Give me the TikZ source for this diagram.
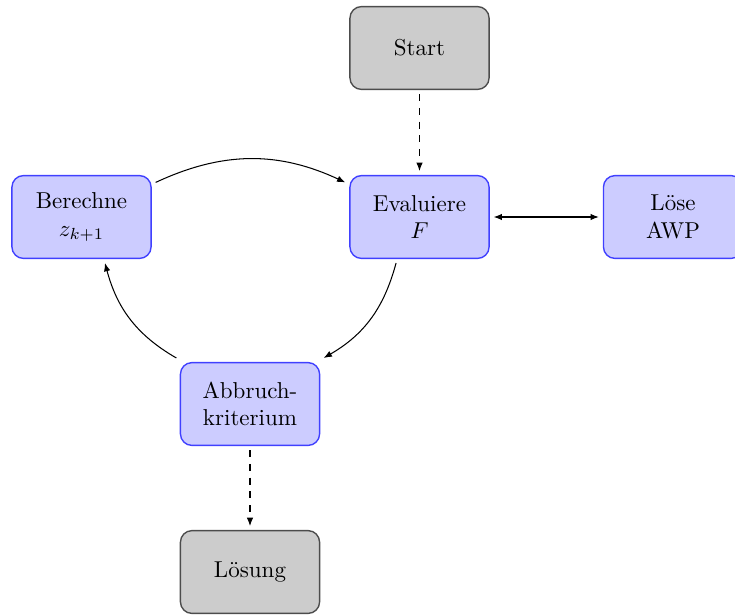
\documentclass[tikz,border=0pt]{standalone}
\usetikzlibrary{arrows.meta}

\tikzset{
  box/.style={rectangle, rounded corners=5pt, minimum width=60.5pt,
    minimum height=36pt, align=center, line width=0.6pt, outer sep=2pt,
    inner sep=2pt},
  procbox/.style={box, draw=blue!75, fill=blue!20},
  termbox/.style={box, draw=black!70, fill=black!20},
  link/.style={-{Latex[length=3.6pt,width=2.8pt]}, line width=0.45pt},
  dlink/.style={link, dashed},
  twoway/.style={{Latex[length=3.6pt,width=2.8pt]}-{Latex[length=3.6pt,width=2.8pt]}, line width=0.45pt}
}

\begin{document}
\begin{tikzpicture}[x=0.4348pt, y=-0.4348pt]
  \useasboundingbox (0,0) rectangle (735,614);

  % nodes of the iteration scheme
  \node[termbox] (start) at (419.5,48) {Start};
  \node[procbox] (eval)  at (419.5,217) {Evaluiere\\$F$};
  \node[procbox] (calc)  at (81.5,217) {Berechne\\$z_{k+1}$};
  \node[procbox] (awp)   at (673,217) {Löse\\AWP};
  \node[procbox] (stop)  at (250,404) {Abbruch-\\kriterium};
  \node[termbox] (sol)   at (250,572) {Lösung};

  % connectors
  \draw[dlink] (start) -- (eval);
  \draw[twoway] (eval) -- (awp);
  \draw[link] (calc.25) to[out=25, in=155] (eval.155);
  \draw[link] (eval.243) to[out=255, in=30] (stop.32);
  \draw[link] (stop.148) to[out=150, in=-75] (calc.297);
  \draw[dlink] (stop) -- (sol);
\end{tikzpicture}
\end{document}
